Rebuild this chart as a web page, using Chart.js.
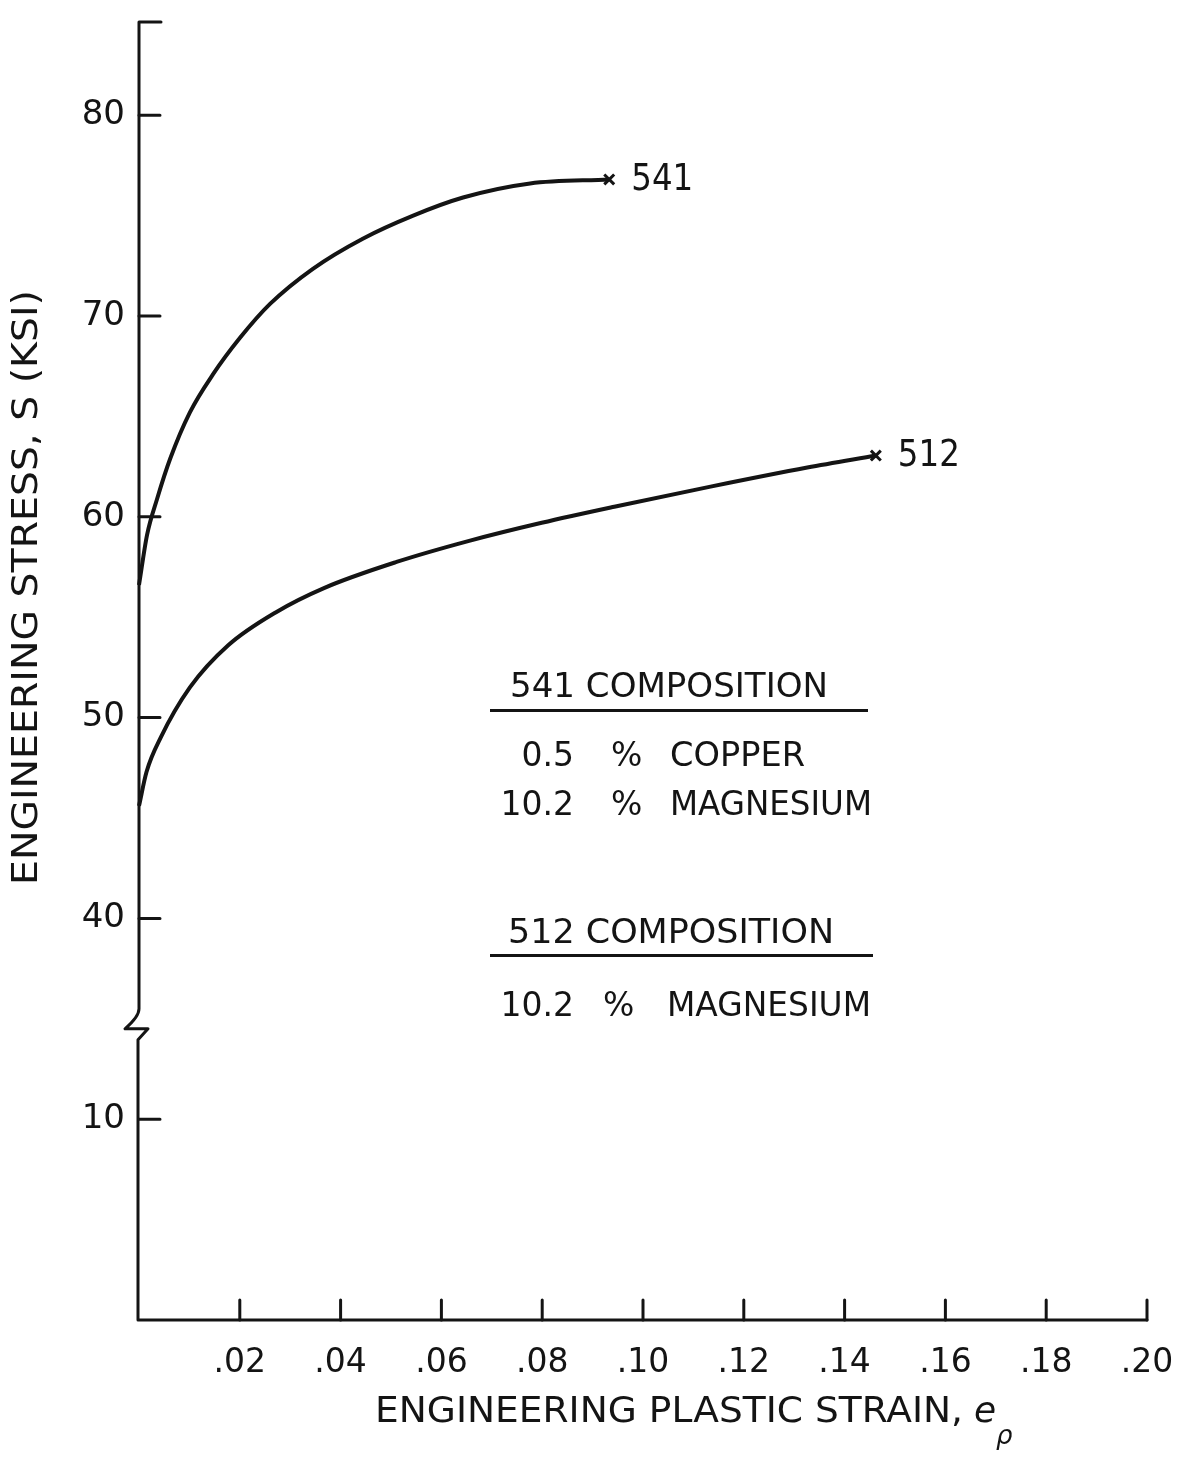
<!DOCTYPE html>
<html>
<head>
<meta charset="utf-8">
<script src="https://cdn.jsdelivr.net/npm/chart.js@4.4.1/dist/chart.umd.min.js"></script>
<style>
  html, body { margin: 0; padding: 0; background: #ffffff; }
  #chartContainer { width: 1179px; height: 1465px; }
</style>
</head>
<body>
<div id="chartContainer">
  <canvas id="stressStrainChart" width="1179" height="1465"></canvas>
</div>
<script>
// curves: engineering plastic strain vs engineering stress (ksi)
const strain541 = [0, 0.0016, 0.0036, 0.0062, 0.0101, 0.0147, 0.0200, 0.0260, 0.0345, 0.0444, 0.0544, 0.0643, 0.0776, 0.0933];
const stress541 = [56.6, 59.1, 60.9, 62.9, 65.2, 67.1, 68.9, 70.6, 72.35, 73.85, 75.0, 75.9, 76.6, 76.8];

const strain512 = [0, 0.0015, 0.0043, 0.0101, 0.0177, 0.0272, 0.0367, 0.0511, 0.0655, 0.0799, 0.0943, 0.1134, 0.1326, 0.1462];
const stress512 = [45.6, 47.3, 49.0, 51.5, 53.6, 55.25, 56.45, 57.75, 58.8, 59.7, 60.5, 61.5, 62.45, 63.05];

const xTicks = [0.02, 0.04, 0.06, 0.08, 0.10, 0.12, 0.14, 0.16, 0.18, 0.20];
const xTickLabels = [".02", ".04", ".06", ".08", ".10", ".12", ".14", ".16", ".18", ".20"];
const yTicks = [10, 40, 50, 60, 70, 80];
const yTickLabels = ["10", "40", "50", "60", "70", "80"];

const comp541 = [["0.5", "%", "COPPER"], ["10.2", "%", "MAGNESIUM"]];
const comp512 = [["10.2", "%", "MAGNESIUM"]];

// the stress axis is broken between 10 and 40: below the break values sit 20 higher
const BREAK_SHIFT = 20;
const axisValue = v => (v < 30 ? v + BREAK_SHIFT : v);

const INK = "#141414";
const FONT = "'DejaVu Sans', sans-serif";

const toPoints = (xs, ys) => xs.map((x, i) => ({ x: x, y: axisValue(ys[i]) }));

function drawText(ctx, text, x, y, size, maxW, align) {
  ctx.font = size + "px " + FONT;
  ctx.textAlign = align || "left";
  ctx.textBaseline = "middle";
  if (maxW) ctx.fillText(text, x, y, maxW);
  else ctx.fillText(text, x, y);
}

// draw text stretched or squeezed to an exact width, starting at x
function fitText(ctx, text, x, y, size, width) {
  ctx.save();
  ctx.font = size + "px " + FONT;
  ctx.textAlign = "left";
  ctx.textBaseline = "middle";
  const w = ctx.measureText(text).width;
  ctx.translate(x, y);
  ctx.scale(width / w, 1);
  ctx.fillText(text, 0, 0);
  ctx.restore();
}

const axesPlugin = {
  id: "brokenAxes",
  afterDatasetsDraw(chart) {
    const { ctx, chartArea: a, scales: { x, y } } = chart;
    ctx.save();
    ctx.strokeStyle = INK;
    ctx.fillStyle = INK;
    ctx.lineWidth = 3;
    ctx.lineCap = "round";
    ctx.lineJoin = "round";

    // y axis with the break, then x axis
    const yb = y.getPixelForValue(34.5);
    ctx.beginPath();
    ctx.moveTo(a.left + 22, a.top);
    ctx.lineTo(a.left, a.top);
    ctx.lineTo(a.left, yb - 20);
    ctx.quadraticCurveTo(a.left, yb - 12, a.left - 14, yb);
    ctx.lineTo(a.left + 9, yb);
    ctx.lineTo(a.left - 1, yb + 11);
    ctx.lineTo(a.left - 1, a.bottom);
    ctx.lineTo(a.right, a.bottom);
    ctx.stroke();

    ctx.beginPath();
    yTicks.forEach(v => {
      const py = y.getPixelForValue(axisValue(v));
      ctx.moveTo(a.left, py);
      ctx.lineTo(a.left + 21, py);
    });
    xTicks.forEach(v => {
      const px = x.getPixelForValue(v);
      ctx.moveTo(px, a.bottom);
      ctx.lineTo(px, a.bottom - 20);
    });
    ctx.stroke();

    yTicks.forEach((v, i) => {
      drawText(ctx, yTickLabels[i], a.left - 14, y.getPixelForValue(axisValue(v)), 34, 44, "right");
    });
    xTicks.forEach((v, i) => {
      drawText(ctx, xTickLabels[i], x.getPixelForValue(v), a.bottom + 43, 33, 58, "center");
    });

    // axis titles
    ctx.save();
    ctx.translate(28, 885);
    ctx.rotate(-Math.PI / 2);
    fitText(ctx, "ENGINEERING STRESS, S (KSI)", 0, 0, 36, 595);
    ctx.restore();
    fitText(ctx, "ENGINEERING PLASTIC STRAIN,", 375, 1413, 35, 588);
    ctx.font = "italic 36px " + FONT;
    ctx.textAlign = "left";
    ctx.fillText("e", 974, 1413);
    ctx.font = "italic 26px " + FONT;
    ctx.fillText("\u03c1", 996, 1437);

    // series names beside the fracture marks
    chart.data.datasets.forEach((ds, i) => {
      const pts = chart.getDatasetMeta(i).data;
      const last = pts[pts.length - 1];
      fitText(ctx, ds.label, last.x + 22, last.y + 1, 37, 62);
    });

    // composition notes
    fitText(ctx, "541 COMPOSITION", 510, 688, 33, 318);
    ctx.fillRect(490, 709, 378, 3);
    comp541.forEach((row, i) => {
      const ry = 757 + i * 49;
      drawText(ctx, row[0], 574, ry, 33, null, "right");
      drawText(ctx, row[1], 611, ry, 33, null, "left");
      fitText(ctx, row[2], 670, ry, 33, i === 0 ? 135 : 202);
    });
    fitText(ctx, "512 COMPOSITION", 508, 934, 33, 326);
    ctx.fillRect(490, 954, 383, 3);
    comp512.forEach((row, i) => {
      const ry = 1007 + i * 49;
      drawText(ctx, row[0], 574, ry, 33, null, "right");
      drawText(ctx, row[1], 603, ry, 33, null, "left");
      fitText(ctx, row[2], 667, ry, 33, 204);
    });
    ctx.restore();
  }
};

const lastOnly = size => c => (c.dataIndex === c.dataset.data.length - 1 ? size : 0);

new Chart(document.getElementById("stressStrainChart").getContext("2d"), {
  type: "line",
  data: {
    datasets: [
      {
        label: "541",
        data: toPoints(strain541, stress541),
        borderColor: INK,
        borderWidth: 4,
        cubicInterpolationMode: "monotone",
        pointStyle: "crossRot",
        pointRadius: lastOnly(7),
        pointBorderWidth: 3,
        pointBorderColor: INK,
        clip: false,
        fill: false,
      },
      {
        label: "512",
        data: toPoints(strain512, stress512),
        borderColor: INK,
        borderWidth: 4,
        cubicInterpolationMode: "monotone",
        pointStyle: "crossRot",
        pointRadius: lastOnly(7),
        pointBorderWidth: 3,
        pointBorderColor: INK,
        clip: false,
        fill: false,
      },
    ],
  },
  options: {
    responsive: false,
    devicePixelRatio: 1,
    animation: false,
    layout: { padding: { left: 139, right: 32, top: 22, bottom: 145 } },
    plugins: { legend: { display: false }, tooltip: { enabled: false } },
    scales: {
      x: { type: "linear", min: 0, max: 0.2, display: false },
      y: { type: "linear", min: 20, max: 84.64, display: false },
    },
  },
  plugins: [axesPlugin],
});
</script>
</body>
</html>
